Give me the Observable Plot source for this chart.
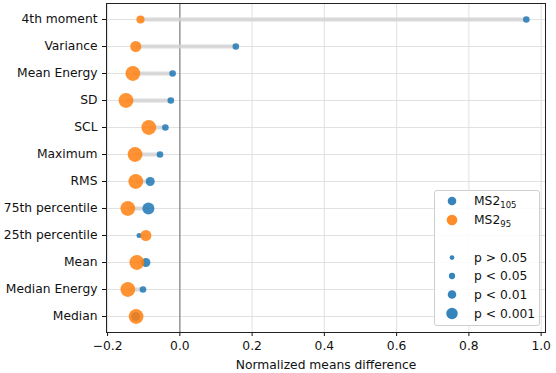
<!DOCTYPE html>
<html>
<head>
<meta charset="utf-8">
<script src="https://cdn.jsdelivr.net/npm/d3@7"></script>
<script src="https://cdn.jsdelivr.net/npm/@observablehq/plot@0.6"></script>
<style>
  html, body { margin: 0; padding: 0; background: #fff; }
  #wrap { position: relative; width: 556px; height: 373px; font-family: "DejaVu Sans", sans-serif; }
  #legend { position: absolute; left: 434px; top: 190px; width: 106px; height: 136px;
            border: 1px solid #cfcfcf; border-radius: 3px; background: rgba(255,255,255,0.85); box-sizing: border-box; }
</style>
</head>
<body>
<div id="wrap"><div id="legend"></div></div>
<script>
// ---- data ----
const categories = ["4th moment","Variance","Mean Energy","SD","SCL","Maximum","RMS",
  "75th percentile","25th percentile","Mean","Median Energy","Median"];
const ms2_105 = [0.959, 0.155, -0.020, -0.025, -0.040, -0.055, -0.082, -0.087, -0.113, -0.094, -0.102, -0.122];
const ms2_95  = [-0.109, -0.122, -0.130, -0.149, -0.086, -0.124, -0.122, -0.144, -0.094, -0.119, -0.144, -0.121];
const p_105 = ["p < 0.05","p < 0.05","p < 0.05","p < 0.05","p < 0.05","p < 0.05","p < 0.01","p < 0.001","p > 0.05","p < 0.01","p < 0.05","p < 0.01"];
const p_95  = ["p < 0.05","p < 0.01","p < 0.001","p < 0.001","p < 0.001","p < 0.001","p < 0.001","p < 0.001","p < 0.01","p < 0.001","p < 0.001","p < 0.001"];
const pLabels = ["p > 0.05","p < 0.05","p < 0.01","p < 0.001"];
const seriesNames = [["MS2","105"],["MS2","95"]];
const xTicks = [-0.2, 0.0, 0.2, 0.4, 0.6, 0.8, 1.0];

// ---- styles ----
const blue = "#1f77b4", orange = "#ff7f0e";
const pRadius = {"p > 0.05": 2.5, "p < 0.05": 3.3, "p < 0.01": 4.5, "p < 0.001": 6.0};
const orangeFactor = 1.23;

const rows105 = categories.map((c, i) => ({cat: c, x: ms2_105[i], p: p_105[i]}));
const rows95  = categories.map((c, i) => ({cat: c, x: ms2_95[i], p: p_95[i]}));
const links = categories.map((c, i) => ({cat: c, x1: ms2_105[i], x2: ms2_95[i]}));

const fmt = d => (d < 0 ? "\u2212" : "") + Math.abs(d).toFixed(1);

const chart = Plot.plot({
  width: 556, height: 373,
  marginLeft: 106, marginRight: 11, marginTop: 3, marginBottom: 41,
  style: {fontFamily: "DejaVu Sans, sans-serif", fontSize: "12.3px", color: "#111", background: "#fff"},
  x: {domain: [-0.203, 1.012]},
  y: {type: "point", domain: categories, padding: 0.54},
  r: {type: "identity"},
  marks: [
    Plot.gridX(xTicks, {stroke: "#dedede", strokeOpacity: 1, strokeWidth: 0.9}),
    Plot.gridY(categories, {stroke: "#dedede", strokeOpacity: 1, strokeWidth: 0.9}),
    Plot.ruleX([0], {stroke: "#8a8a8a", strokeWidth: 1.3}),
    Plot.link(links, {x1: "x1", x2: "x2", y1: "cat", y2: "cat", stroke: "#d4d4d4", strokeWidth: 4, strokeOpacity: 0.85}),
    Plot.dot(rows105, {x: "x", y: "cat", r: d => pRadius[d.p], fill: blue, fillOpacity: 0.85, stroke: "none"}),
    Plot.dot(rows95, {x: "x", y: "cat", r: d => pRadius[d.p] * orangeFactor, fill: orange, fillOpacity: 0.85, stroke: "none"}),
    Plot.axisX({ticks: xTicks, tickFormat: fmt, tickSize: 4, tickPadding: 5,
      label: "Normalized means difference", labelAnchor: "center", labelArrow: "none", labelOffset: 36}),
    Plot.axisY({tickSize: 4, tickPadding: 5, label: null}),
    Plot.frame({stroke: "#222", strokeWidth: 1})
  ]
});
document.getElementById("wrap").prepend(chart);

// ---- legend ----
const lg = d3.select("#legend").append("svg").attr("width", 104).attr("height", 134)
  .style("font-family", "DejaVu Sans, sans-serif").style("font-size", "12.3px");
const cx = 17, tx = 39;
const legendItems = [
  {kind: "series", name: seriesNames[0], fill: blue, r: 4.3},
  {kind: "series", name: seriesNames[1], fill: orange, r: 5.3},
  {kind: "gap"},
  ...pLabels.map(p => ({kind: "p", label: p, fill: blue, r: pRadius[p] * 0.95}))
];
const rowY = [10, 29, 48, 66.5, 85, 103.5, 122.5];
legendItems.forEach((it, i) => {
  if (it.kind === "gap") return;
  const y = rowY[i];
  lg.append("circle").attr("cx", cx).attr("cy", y).attr("r", it.r).attr("fill", it.fill).attr("fill-opacity", 0.9);
  const t = lg.append("text").attr("x", tx).attr("y", y).attr("dy", "0.35em").attr("fill", "#111");
  if (it.kind === "series") {
    t.append("tspan").text(it.name[0]);
    t.append("tspan").attr("font-size", "8.5px").attr("dy", "3").text(it.name[1]);
  } else {
    t.text(it.label);
  }
});
</script>
</body>
</html>
